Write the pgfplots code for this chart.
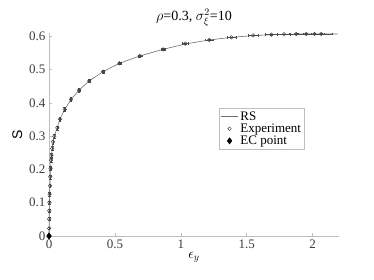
\documentclass[border=0pt]{standalone}
\usepackage{fontspec}
\setmainfont{Liberation Serif}
\newfontfamily\sansf{Liberation Sans}
\usepackage{pgfplots}
\pgfplotsset{compat=1.18}
\definecolor{axgray}{RGB}{190,190,190}
\definecolor{txtgray}{RGB}{60,60,60}
\definecolor{rsgray}{RGB}{110,110,110}
\begin{document}
\begin{tikzpicture}
\begin{axis}[
  scale only axis,
  width=290pt, height=203pt,
  xmin=0, xmax=2.2, ymin=0, ymax=0.61,
  axis lines=left,
  axis line style={-, draw=axgray, line width=0.7pt},
  tick style={draw=axgray, line width=0.6pt},
  tick align=inside,
  major tick length=3pt,
  xtick={0,0.5,1,1.5,2},
  ytick={0,0.1,0.2,0.3,0.4,0.5,0.6},
  xticklabels={0,0.5,1,1.5,2},
  yticklabels={0,0.1,0.2,0.3,0.4,0.5,0.6},
  ticklabel style={font=\fontsize{13}{15}\selectfont, text=txtgray},
  title={$\rho$=0.3, $\sigma_{\xi}^{2}$=10},
  title style={font=\fontsize{14}{16}\selectfont, yshift=-3pt},
  xlabel={$\epsilon_y$},
  ylabel={\sansf S},
  label style={font=\fontsize{14}{16}\selectfont},
  xlabel style={yshift=3pt},
  ylabel style={yshift=0pt},
  legend style={at={(axis cs:1.29,0.385)}, anchor=north west, draw=axgray,
    font=\fontsize{13}{15}\selectfont, inner sep=1.5pt, row sep=-2pt,
    legend cell align=left},
  clip=false,
]
\addplot[rsgray, line width=0.6pt] coordinates {
(0,0) (0.0005,0.023) (0.001,0.05) (0.002,0.076) (0.003,0.1) (0.005,0.126)
(0.007,0.151) (0.009,0.178) (0.012,0.203) (0.016,0.228) (0.02,0.245)
(0.025,0.265) (0.031,0.283) (0.04,0.30) (0.063,0.326) (0.083,0.351)
(0.119,0.38) (0.167,0.41) (0.227,0.438) (0.305,0.466) (0.411,0.494)
(0.535,0.519) (0.689,0.541) (0.866,0.561) (1.035,0.577) (1.215,0.589)
(1.384,0.597) (1.548,0.602) (1.687,0.605) (1.783,0.606) (1.9,0.607)
(2.0,0.607) (2.19,0.607)
};
\addlegendentry{RS}
\addplot[only marks, mark=o, mark size=1.8pt, draw=black!75, mark options={line width=0.45pt},
  error bars/.cd, x dir=both, x explicit, y dir=both, y explicit,
  error bar style={black!70, line width=0.4pt},
  error mark options={rotate=90, mark size=1.4pt, black!70}]
coordinates {
(0.0005,0.023) +- (0.0005,0.004)
(0.001,0.051) +- (0.0005,0.004)
(0.002,0.076) +- (0.0005,0.004)
(0.003,0.101) +- (0.0005,0.005)
(0.005,0.126) +- (0.0005,0.005)
(0.007,0.151) +- (0.0005,0.005)
(0.009,0.178) +- (0.001,0.006)
(0.012,0.203) +- (0.001,0.006)
(0.016,0.228) +- (0.001,0.006)
(0.019,0.243) +- (0.001,0.006)
(0.024,0.263) +- (0.001,0.006)
(0.030,0.283) +- (0.001,0.006)
(0.040,0.300) +- (0.002,0.006)
(0.063,0.325) +- (0.003,0.006)
(0.083,0.351) +- (0.003,0.006)
(0.119,0.380) +- (0.004,0.006)
(0.167,0.410) +- (0.005,0.006)
(0.227,0.438) +- (0.006,0.005)
(0.305,0.466) +- (0.008,0.004)
(0.411,0.494) +- (0.010,0.004)
(0.535,0.519) +- (0.012,0.003)
(0.689,0.541) +- (0.015,0.003)
(0.866,0.561) +- (0.018,0.002)
(1.035,0.578) +- (0.022,0.002)
(1.215,0.589) +- (0.028,0.002)
(1.384,0.597) +- (0.034,0.001)
(1.548,0.603) +- (0.040,0.001)
(1.687,0.605) +- (0.045,0.001)
(1.783,0.606) +- (0.050,0.001)
(1.876,0.607) +- (0.055,0.001)
(1.952,0.607) +- (0.060,0.001)
(2.015,0.607) +- (0.070,0.001)
(2.066,0.607) +- (0.080,0.001)
};
\addlegendentry{Experiment}
\addplot[only marks, mark=diamond*, mark size=3.2pt, black] coordinates {(0,0)};
\addlegendentry{EC point}
\end{axis}
\useasboundingbox (-49pt,-44pt) rectangle (325pt,236pt);
\end{tikzpicture}
\end{document}
